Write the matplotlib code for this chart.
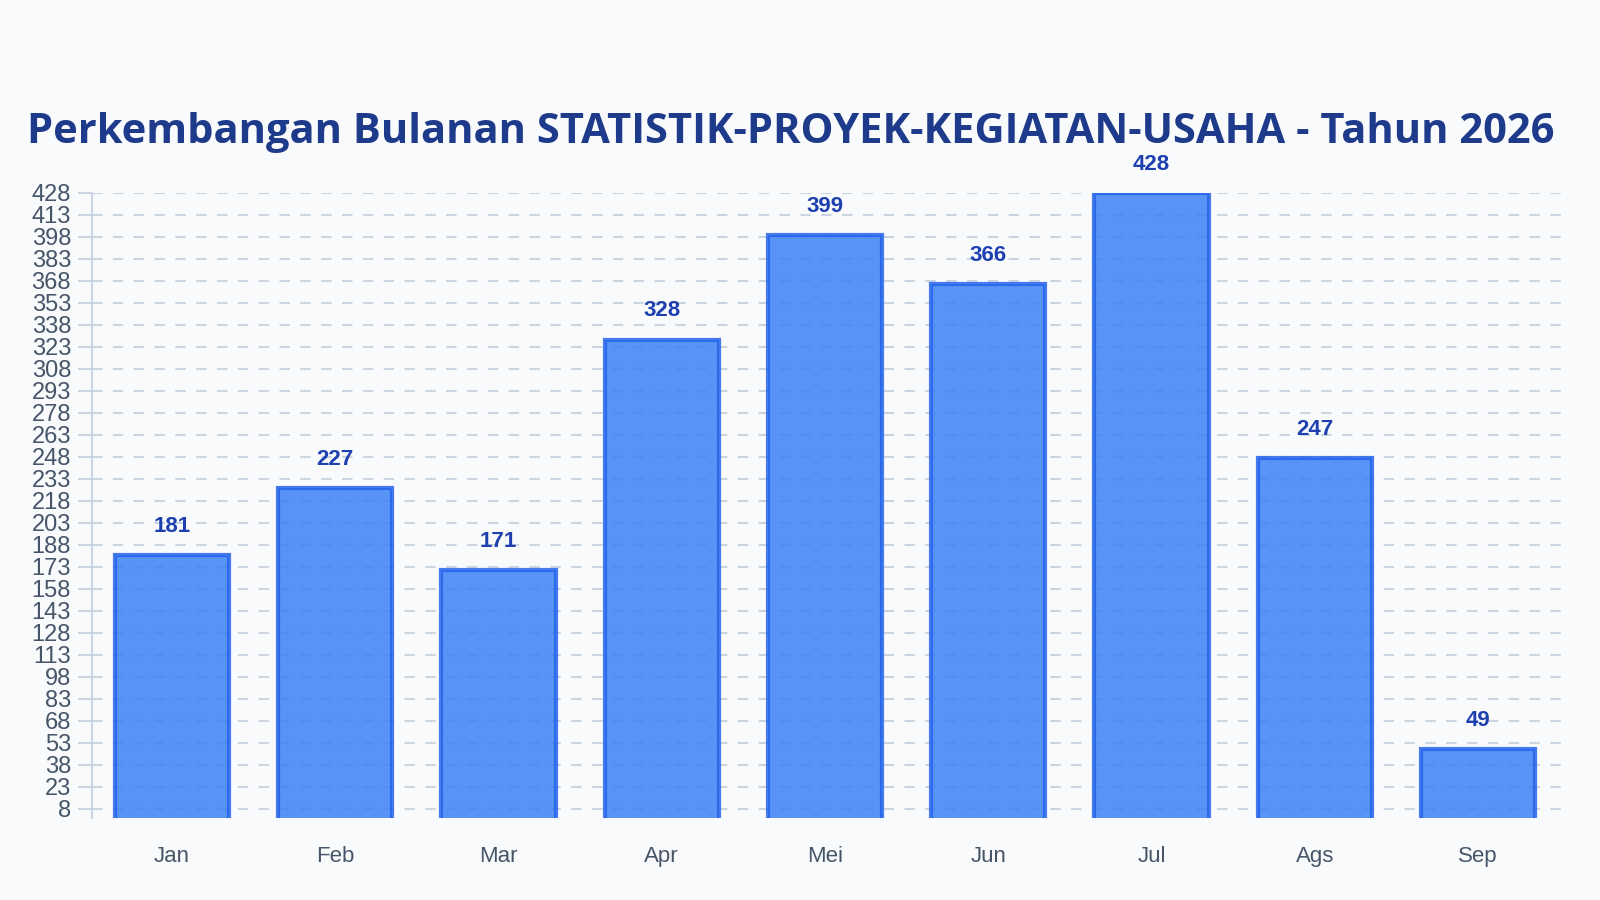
import matplotlib
matplotlib.use('Agg')
import matplotlib.pyplot as plt
import numpy as np

MONTHS = ['Jan', 'Feb', 'Mar', 'Apr', 'Mei', 'Jun', 'Jul', 'Ags', 'Sep']
COUNTS = [181, 227, 171, 328, 399, 366, 428, 247, 49]
Y_TICKS = list(range(8, 429, 15))
TITLE = 'Perkembangan Bulanan STATISTIK-PROYEK-KEGIATAN-USAHA - Tahun 2026'

BG = '#f8fafc'
BAR_FILL = '#3b82f6'
BAR_EDGE = '#2563eb'
GRID = '#cbd5e1'
TICK_TEXT = '#475569'
LABEL_TEXT = '#1e40af'
TITLE_TEXT = '#1e3a8a'


def main():
    fig = plt.figure(figsize=(16, 9), dpi=100, facecolor=BG)
    ax = fig.add_axes([0.0574, 0.0907, 0.9184, 0.695])
    ax.set_facecolor(BG)

    x = np.arange(len(MONTHS))
    ax.bar(x, COUNTS, width=0.7, color=BAR_FILL, alpha=0.85,
           edgecolor=BAR_EDGE, linewidth=3, zorder=3)
    for xi, val in zip(x, COUNTS):
        ax.annotate(str(val), (xi, val), xytext=(0, 13), textcoords='offset points',
                    ha='center', va='bottom', fontsize=16, fontweight='bold',
                    color=LABEL_TEXT, family='Liberation Sans', zorder=4)

    ax.set_xlim(-0.49, len(MONTHS) - 0.49)
    ax.set_ylim(1.5, 428)
    ax.set_yticks(Y_TICKS)
    ax.set_xticks(x)
    ax.set_xticklabels(MONTHS)
    ax.tick_params(axis='y', length=10, width=1.5, color=GRID, labelsize=17,
                   labelcolor=TICK_TEXT, pad=5)
    ax.tick_params(axis='x', length=0, labelsize=16, labelcolor=TICK_TEXT, pad=20)
    for lbl in ax.get_xticklabels() + ax.get_yticklabels():
        lbl.set_family('Liberation Sans')

    ax.grid(axis='y', color=GRID, linestyle=(0, (5, 5)), linewidth=1.5, zorder=0)
    for side in ['top', 'right', 'bottom']:
        ax.spines[side].set_visible(False)
    ax.spines['left'].set_color(GRID)
    ax.spines['left'].set_linewidth(1.5)

    fig.text(0.494, 0.853, TITLE, ha='center', va='center', fontsize=30,
             fontweight='bold', color=TITLE_TEXT, family=['Open Sans', 'Noto Sans'])

    fig.savefig('out.png', dpi=100, facecolor=BG)


if __name__ == '__main__':
    main()
